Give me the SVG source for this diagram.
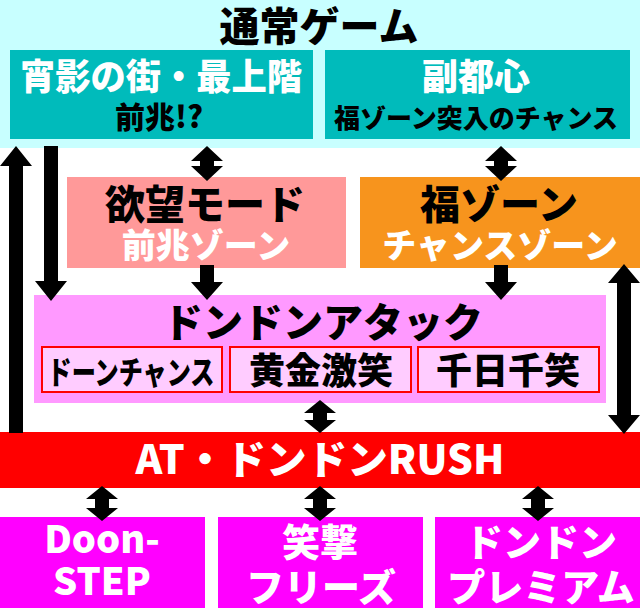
<svg xmlns="http://www.w3.org/2000/svg" width="640" height="608" viewBox="0 0 640 608">
<style>
text{font-family:"Noto Sans CJK JP","Noto Sans",sans-serif;font-weight:900;text-anchor:middle}
.w{fill:#ffffff}.k{fill:#000000}
.arr{fill:#000000}
.sub{fill:#ffccff;stroke:#ff0000;stroke-width:2}
</style>
<rect x="0" y="0" width="640" height="608" fill="#ffffff"/>
<rect x="0" y="0" width="640" height="148" fill="#c8ffff"/>
<g id="title"><text class="k" x="319" y="41" font-size="40">通常ゲーム</text></g>
<g id="shoei">
<rect x="10" y="50" width="303" height="89" fill="#00bbbb"/>
<text class="w" x="161" y="90" font-size="36" textLength="282" lengthAdjust="spacingAndGlyphs">宵影の街・最上階</text>
<text class="k" x="159" y="128" font-size="30">前兆!?</text>
</g>
<g id="fukutoshin">
<rect x="325" y="50" width="305" height="89" fill="#00bbbb"/>
<text class="w" x="476" y="90" font-size="36">副都心</text>
<text class="k" x="476" y="128" font-size="26">福ゾーン突入のチャンス</text>
</g>
<g id="yokubou">
<rect x="67" y="177" width="279" height="91" fill="#ff9999"/>
<text class="k" x="205" y="219" font-size="40">欲望モード</text>
<text class="w" x="206" y="258" font-size="34">前兆ゾーン</text>
</g>
<g id="fukuzone">
<rect x="360" y="177" width="280" height="91" fill="#f7941d"/>
<text class="k" x="499" y="219" font-size="40">福ゾーン</text>
<text class="w" x="500" y="258" font-size="34">チャンスゾーン</text>
</g>
<g id="dondon-attack">
<rect x="34" y="295" width="572" height="108" fill="#ff99ff"/>
<text class="k" x="323" y="337" font-size="40">ドンドンアタック</text>
<rect class="sub" x="42" y="347" width="180" height="45"/>
<text class="k" x="131" y="384" font-size="32" textLength="167" lengthAdjust="spacingAndGlyphs">ドーンチャンス</text>
<rect class="sub" x="230" y="347" width="181" height="45"/>
<text class="k" x="321" y="384" font-size="36">黄金激笑</text>
<rect class="sub" x="418" y="347" width="181" height="45"/>
<text class="k" x="508" y="384" font-size="36">千日千笑</text>
</g>
<g id="rush">
<rect x="0" y="432" width="640" height="56" fill="#ff0000"/>
<text class="w" x="320" y="474" font-size="40" textLength="369" lengthAdjust="spacingAndGlyphs">AT・ドンドンRUSH</text>
</g>
<g id="doonstep">
<rect x="0" y="517" width="205" height="91" fill="#ff00ff"/>
<text class="w" x="102" y="553" font-size="38">Doon-</text>
<text class="w" x="102" y="595" font-size="38">STEP</text>
</g>
<g id="shougeki">
<rect x="218" y="517" width="205" height="91" fill="#ff00ff"/>
<text class="w" x="320" y="556" font-size="38">笑撃</text>
<text class="w" x="321" y="601" font-size="38">フリーズ</text>
</g>
<g id="premium">
<rect x="435" y="517" width="205" height="91" fill="#ff00ff"/>
<text class="w" x="541" y="556" font-size="38">ドンドン</text>
<text class="w" x="541" y="601" font-size="38">プレミアム</text>
</g>
<g id="connectors" class="arr">
<path d="M16,146 L32,166 L23,166 L23,433 L9,433 L9,166 L0,166 Z"/>
<path d="M44,146 L58,146 L58,281 L67,281 L51,301 L35,281 L44,281 Z"/>
<path d="M207,146 L223,161 L214,161 L214,166 L223,166 L207,181 L191,166 L200,166 L200,161 L191,161 Z"/>
<path d="M501,146 L517,161 L508,161 L508,166 L517,166 L501,181 L485,166 L494,166 L494,161 L485,161 Z"/>
<path d="M200,265 L214,265 L214,282 L223,282 L207,300 L191,282 L200,282 Z"/>
<path d="M494,265 L508,265 L508,282 L517,282 L501,300 L485,282 L494,282 Z"/>
<path d="M624,264 L640,283 L631,283 L631,415 L640,415 L624,434 L608,415 L617,415 L617,283 L608,283 Z"/>
<path d="M320,400 L336,413 L327,413 L327,420 L336,420 L320,433 L304,420 L313,420 L313,413 L304,413 Z"/>
<path d="M102,486 L118,499 L109,499 L109,508 L118,508 L102,521 L86,508 L95,508 L95,499 L86,499 Z"/>
<path d="M320,486 L336,499 L327,499 L327,508 L336,508 L320,521 L304,508 L313,508 L313,499 L304,499 Z"/>
<path d="M538,486 L554,499 L545,499 L545,508 L554,508 L538,521 L522,508 L531,508 L531,499 L522,499 Z"/>
</g>
</svg>
